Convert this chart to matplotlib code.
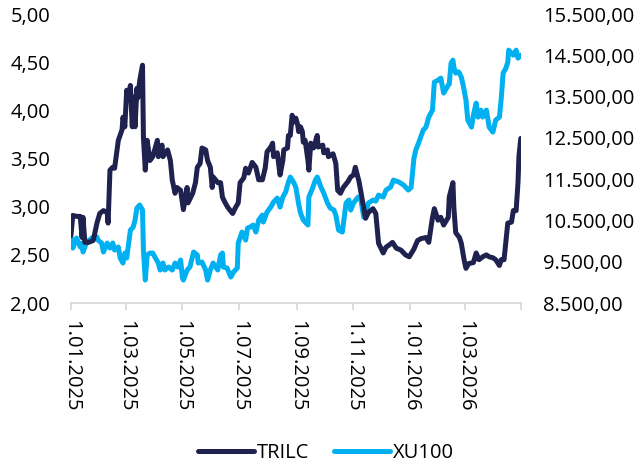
import matplotlib
matplotlib.use("Agg")
import matplotlib.pyplot as plt
import matplotlib.dates as mdates
from matplotlib.ticker import FuncFormatter
import pandas as pd

plt.rcParams['font.family'] = ['Open Sans', 'DejaVu Sans']

trilc_dates = [
    "2025-01-01","2025-01-03","2025-01-07","2025-01-11","2025-01-13","2025-01-14","2025-01-16","2025-01-20",
    "2025-01-25","2025-01-29","2025-02-01","2025-02-05","2025-02-09","2025-02-10","2025-02-12","2025-02-15",
    "2025-02-17","2025-02-21","2025-02-25","2025-02-26","2025-02-28","2025-03-02","2025-03-03","2025-03-06",
    "2025-03-08","2025-03-09","2025-03-11","2025-03-13","2025-03-14","2025-03-16","2025-03-19","2025-03-20",
    "2025-03-22","2025-03-24","2025-03-27","2025-03-30","2025-04-04","2025-04-05","2025-04-09","2025-04-10",
    "2025-04-15","2025-04-18","2025-04-20","2025-04-23","2025-04-25","2025-04-29","2025-05-02","2025-05-06",
    "2025-05-07","2025-05-12","2025-05-15","2025-05-17","2025-05-20","2025-05-22","2025-05-26","2025-05-28",
    "2025-05-31","2025-06-02","2025-06-03","2025-06-08","2025-06-11","2025-06-13","2025-06-16","2025-06-19",
    "2025-06-24","2025-06-27","2025-06-30","2025-07-02","2025-07-06","2025-07-08","2025-07-11","2025-07-15",
    "2025-07-19","2025-07-22","2025-07-26","2025-07-29","2025-07-31","2025-08-04","2025-08-06","2025-08-07",
    "2025-08-11","2025-08-14","2025-08-17","2025-08-18","2025-08-22","2025-08-23","2025-08-25","2025-08-27",
    "2025-08-29","2025-08-31","2025-09-02","2025-09-03","2025-09-05","2025-09-07","2025-09-08","2025-09-10",
    "2025-09-13","2025-09-14","2025-09-16","2025-09-19","2025-09-23","2025-09-24","2025-09-29","2025-09-30",
    "2025-10-04","2025-10-05","2025-10-10","2025-10-13","2025-10-15","2025-10-18","2025-10-21","2025-10-26",
    "2025-10-29","2025-11-01","2025-11-03","2025-11-07","2025-11-11","2025-11-14","2025-11-17","2025-11-22",
    "2025-11-25","2025-11-28","2025-12-03","2025-12-06","2025-12-09","2025-12-13","2025-12-17","2025-12-22",
    "2025-12-27","2025-12-31","2026-01-05","2026-01-09","2026-01-13","2026-01-18","2026-01-21","2026-01-25",
    "2026-01-27","2026-01-31","2026-02-03","2026-02-06","2026-02-11","2026-02-12","2026-02-16","2026-02-17",
    "2026-02-19","2026-02-23","2026-02-25","2026-02-28","2026-03-02","2026-03-05","2026-03-10","2026-03-13",
    "2026-03-16","2026-03-20","2026-03-24","2026-03-27","2026-03-31","2026-04-03","2026-04-07","2026-04-09",
    "2026-04-12","2026-04-16","2026-04-20","2026-04-22","2026-04-25","2026-04-27","2026-04-28","2026-04-30",
]
trilc_values = [
    2.70, 2.91, 2.90, 2.90, 2.68, 2.89, 2.63, 2.63,
    2.65, 2.83, 2.93, 2.96, 2.94, 2.83, 3.38, 3.41,
    3.40, 3.69, 3.80, 3.93, 3.83, 4.21, 4.11, 4.26,
    3.83, 4.14, 3.83, 4.23, 4.13, 4.31, 4.47, 3.72,
    3.38, 3.69, 3.48, 3.52, 3.69, 3.52, 3.64, 3.52,
    3.59, 3.48, 3.28, 3.14, 3.20, 3.17, 2.97, 3.20,
    3.04, 3.14, 3.25, 3.41, 3.45, 3.61, 3.59, 3.48,
    3.41, 3.20, 3.31, 3.25, 3.25, 3.10, 3.04, 2.99,
    2.93, 2.99, 3.04, 3.25, 3.30, 3.40, 3.35, 3.46,
    3.41, 3.28, 3.28, 3.40, 3.57, 3.62, 3.66, 3.52,
    3.56, 3.33, 3.48, 3.59, 3.61, 3.74, 3.74, 3.95,
    3.88, 3.92, 3.85, 3.78, 3.83, 3.78, 3.67, 3.69,
    3.48, 3.38, 3.66, 3.61, 3.74, 3.62, 3.64, 3.56,
    3.59, 3.52, 3.55, 3.45, 3.17, 3.14, 3.20, 3.26,
    3.31, 3.33, 3.41, 3.26, 3.04, 2.88, 2.94, 2.98,
    2.93, 2.62, 2.52, 2.58, 2.60, 2.63, 2.57, 2.55,
    2.50, 2.48, 2.56, 2.65, 2.67, 2.68, 2.63, 2.89,
    2.98, 2.86, 2.89, 2.81, 2.89, 3.10, 3.25, 2.99,
    2.73, 2.68, 2.62, 2.45, 2.36, 2.41, 2.42, 2.52,
    2.45, 2.48, 2.50, 2.48, 2.47, 2.45, 2.39, 2.45,
    2.45, 2.83, 2.84, 2.96, 2.96, 3.25, 3.52, 3.71,
]

xu100_dates = [
    "2025-01-02","2025-01-03","2025-01-07","2025-01-11","2025-01-13","2025-01-14","2025-01-18","2025-01-21",
    "2025-01-25","2025-01-29","2025-01-30","2025-02-03","2025-02-05","2025-02-09","2025-02-12","2025-02-15",
    "2025-02-17","2025-02-21","2025-02-23","2025-02-26","2025-02-28","2025-03-02","2025-03-06","2025-03-09",
    "2025-03-11","2025-03-13","2025-03-16","2025-03-19","2025-03-20","2025-03-22","2025-03-24","2025-03-27",
    "2025-03-30","2025-04-02","2025-04-05","2025-04-07","2025-04-10","2025-04-12","2025-04-16","2025-04-20",
    "2025-04-23","2025-04-26","2025-04-29","2025-05-01","2025-05-02","2025-05-06","2025-05-09","2025-05-13",
    "2025-05-17","2025-05-18","2025-05-22","2025-05-26","2025-05-28","2025-05-31","2025-06-03","2025-06-08",
    "2025-06-11","2025-06-13","2025-06-14","2025-06-18","2025-06-22","2025-06-25","2025-06-29","2025-06-30",
    "2025-07-04","2025-07-08","2025-07-10","2025-07-13","2025-07-16","2025-07-19","2025-07-22","2025-07-26",
    "2025-07-27","2025-07-31","2025-08-04","2025-08-07","2025-08-11","2025-08-14","2025-08-17","2025-08-20",
    "2025-08-23","2025-08-25","2025-08-29","2025-08-31","2025-09-03","2025-09-05","2025-09-08","2025-09-13",
    "2025-09-14","2025-09-18","2025-09-21","2025-09-23","2025-09-27","2025-09-30","2025-10-04","2025-10-07",
    "2025-10-11","2025-10-13","2025-10-16","2025-10-20","2025-10-24","2025-10-27","2025-10-29","2025-11-01",
    "2025-11-06","2025-11-09","2025-11-12","2025-11-14","2025-11-17","2025-11-22","2025-11-25","2025-11-28",
    "2025-12-03","2025-12-06","2025-12-11","2025-12-14","2025-12-20","2025-12-25","2025-12-30","2026-01-02",
    "2026-01-05","2026-01-07","2026-01-10","2026-01-15","2026-01-18","2026-01-21","2026-01-25","2026-01-27",
    "2026-01-31","2026-02-03","2026-02-06","2026-02-11","2026-02-12","2026-02-14","2026-02-16","2026-02-17",
    "2026-02-19","2026-02-22","2026-02-23","2026-02-25","2026-02-27","2026-03-02","2026-03-04","2026-03-08",
    "2026-03-10","2026-03-13","2026-03-15","2026-03-18","2026-03-20","2026-03-24","2026-03-27","2026-03-31",
    "2026-04-03","2026-04-07","2026-04-09","2026-04-11","2026-04-14","2026-04-16","2026-04-17","2026-04-22",
    "2026-04-25","2026-04-27","2026-04-30",
]
xu100_values = [
    10050, 9832, 10075, 9857, 9954, 9736, 9978, 10026,
    10099, 10099, 10026, 9954, 9736, 9954, 9832, 9954,
    9784, 9857, 9590, 9469, 9711, 9590, 10268, 10341,
    10511, 10801, 10874, 10753, 9784, 9057, 9663, 9711,
    9711, 9590, 9469, 9300, 9469, 9300, 9372, 9300,
    9469, 9372, 9542, 9106, 9057, 9300, 9372, 9736,
    9663, 9469, 9494, 9300, 9057, 9300, 9469, 9300,
    9663, 9711, 9372, 9348, 9130, 9251, 9348, 9954,
    10220, 10026, 10317, 10341, 10390, 10220, 10511, 10632,
    10462, 10705, 10825, 10947, 11043, 10825, 11068, 11189,
    11431, 11552, 11407, 11300, 10900, 10680, 10511, 10390,
    11068, 11286, 11479, 11552, 11310, 11164, 10922, 10801,
    10753, 10632, 10268, 10220, 10922, 10995, 10753, 10922,
    11068, 10995, 10583, 10680, 10922, 10995, 10970, 11116,
    11068, 11237, 11310, 11479, 11430, 11358, 11237, 11300,
    12000, 12206, 12376, 12690, 12763, 13005, 13175, 13853,
    13901, 13950, 13587, 13780, 13800, 14313, 14386, 14216,
    14071, 14100, 14071, 13974, 13780, 13417, 12933, 12763,
    13054, 13344, 13005, 13175, 13005, 13175, 12763, 12642,
    12933, 13005, 13466, 14071, 14192, 14337, 14628, 14507,
    14628, 14434, 14507,
]

series_names = ["TRILC", "XU100"]
colors = ["#1F214F", "#00B0F0"]
x_start, x_end = "2025-01-01", "2026-04-30"
tick_dates = ["2025-01-01", "2025-03-01", "2025-05-01", "2025-07-01", "2025-09-01",
              "2025-11-01", "2026-01-01", "2026-03-01"]

fig = plt.figure(figsize=(6.39, 4.72), dpi=100)
ax = fig.add_axes([0.111, 0.358, 0.704, 0.612])
ax2 = ax.twinx()

l1, = ax.plot(pd.to_datetime(trilc_dates), trilc_values, color=colors[0], lw=3.6,
              solid_joinstyle='round', solid_capstyle='round', label=series_names[0])
l2, = ax2.plot(pd.to_datetime(xu100_dates), xu100_values, color=colors[1], lw=3.6,
               solid_joinstyle='round', solid_capstyle='round', label=series_names[1])

ax.set_zorder(ax2.get_zorder() + 1)
ax.patch.set_visible(False)

ax.set_ylim(2.0, 5.0)
ax.set_yticks([2.0, 2.5, 3.0, 3.5, 4.0, 4.5, 5.0])
ax2.set_ylim(8500, 15500)
ax2.set_yticks(list(range(8500, 15501, 1000)))

ax.yaxis.set_major_formatter(FuncFormatter(lambda v, p: f"{v:.2f}".replace(".", ",")))
def fmt_right(v, p):
    s = f"{v:,.2f}"
    return s.replace(",", "X").replace(".", ",").replace("X", ".")
ax2.yaxis.set_major_formatter(FuncFormatter(fmt_right))

xs = pd.to_datetime(x_start)
xe = pd.to_datetime(x_end)
ax.set_xlim(xs, xe)
td = list(pd.to_datetime(tick_dates)) + [xe]
ax.set_xticks(td)
labels = [f"{d.day}.{d.month:02d}.{d.year}" for d in td[:-1]] + [""]
ax.set_xticklabels(labels, rotation=-90, ha='center', va='top', fontsize=14.5)

for a in (ax, ax2):
    for s in a.spines.values():
        s.set_visible(False)
ax.spines['bottom'].set_visible(True)
ax.spines['bottom'].set_color('#D9D9D9')
ax.spines['bottom'].set_linewidth(1.3)

ax.tick_params(axis='x', length=5, width=1.3, color='#D9D9D9', pad=7, labelcolor='black')
ax.tick_params(axis='y', length=0, pad=15, labelsize=14.5)
ax2.tick_params(axis='y', length=0, pad=16, labelsize=14.5)
ax2.tick_params(axis='x', length=0)

fig.legend([l1, l2], series_names, loc='center', bbox_to_anchor=(0.51, 0.040), ncol=2,
           frameon=False, fontsize=14.5, handlelength=2.8, handletextpad=0.15,
           columnspacing=1.2)

fig.savefig("out.png", dpi=100)
